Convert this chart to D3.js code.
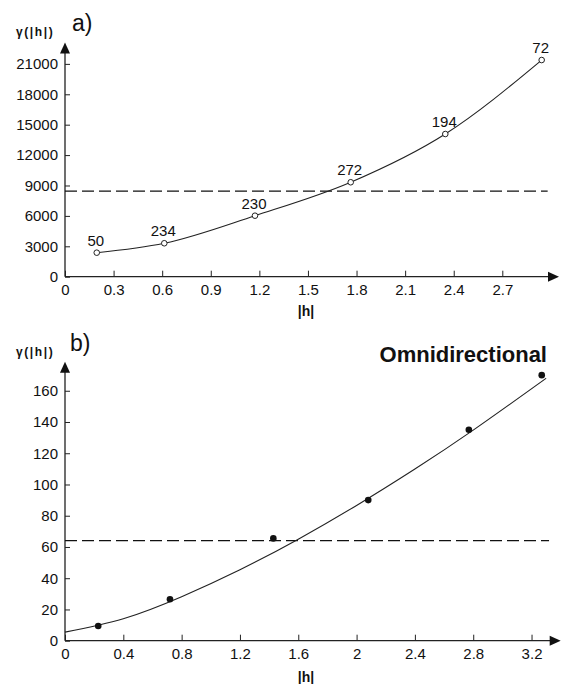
<!DOCTYPE html>
<html>
<head>
<meta charset="utf-8">
<script src="https://cdn.jsdelivr.net/npm/d3@7"></script>
<style>
  body { margin: 0; background: #fff; }
  text { font-family: "Liberation Sans", Arial, sans-serif; fill: #111; }
</style>
</head>
<body>
<div id="my_dataviz"></div>
<script>
// panel a) experimental variogram, lag / gamma / number of pairs
var lagsA = [0.196, 0.613, 1.173, 1.764, 2.348, 2.943];
var gammaA = [2370, 3300, 6020, 9320, 14080, 21380];
var pairsA = [50, 234, 230, 272, 194, 72];
var sillA = 8450;
var sillEndA = 2.98;
var xTicksA = [0, 0.3, 0.6, 0.9, 1.2, 1.5, 1.8, 2.1, 2.4, 2.7];
var yTicksA = [0, 3000, 6000, 9000, 12000, 15000, 18000, 21000];

// panel b) omnidirectional variogram + fitted model
var lagsB = [0.228, 0.72, 1.429, 2.08, 2.77, 3.27];
var gammaB = [9.4, 26.5, 65.5, 90, 135, 170];
var modelLagsB = [0, 0.4, 0.8, 1.2, 1.6, 2.0, 2.4, 2.8, 3.3];
var modelGammaB = [5.5, 14.1, 28.2, 45.4, 65.0, 86.6, 109.9, 134.8, 168];
var sillB = 64;
var sillEndB = 3.32;
var xTicksB = [0, 0.4, 0.8, 1.2, 1.6, 2, 2.4, 2.8, 3.2];
var yTicksB = [0, 20, 40, 60, 80, 100, 120, 140, 160];

var svg = d3.select("#my_dataviz")
  .append("svg")
  .attr("width", 565)
  .attr("height", 684);

// scales
var xA = d3.scaleLinear().domain([0, 3.05]).range([65, 559]);
var yA = d3.scaleLinear().domain([0, 23100]).range([276.7, 42.6]);
var xB = d3.scaleLinear().domain([0, 3.4]).range([65, 560.7]);
var yB = d3.scaleLinear().domain([0, 178.6]).range([640.7, 361.7]);

function drawAxes(x, y, xTicks, yTicks) {
  // X axis
  svg.append("g")
    .attr("transform", "translate(0," + y(0) + ")")
    .call(d3.axisBottom(x).tickValues(xTicks).tickSizeInner(-6).tickSizeOuter(0)
      .tickPadding(8).tickFormat(function (d) { return String(d); }))
    .call(function (g) { g.select(".domain").remove(); })
    .call(function (g) {
      g.selectAll("line").attr("stroke", "#222");
      g.selectAll("text").style("font-size", "15px").attr("fill", "#111");
    });

  // Y axis
  svg.append("g")
    .attr("transform", "translate(" + x(0) + ",0)")
    .call(d3.axisLeft(y).tickValues(yTicks).tickSizeInner(-5).tickSizeOuter(0)
      .tickPadding(7).tickFormat(function (d) { return String(d); }))
    .call(function (g) { g.select(".domain").remove(); })
    .call(function (g) {
      g.selectAll("line").attr("stroke", "#222");
      g.selectAll("text").style("font-size", "15px").attr("fill", "#111");
    });

  var x0 = x(0), y0 = y(0), top = y.range()[1], right = x.range()[1];
  // axis lines with arrow heads
  svg.append("path")
    .attr("d", "M" + x0 + "," + y0 + "V" + (top + 10) + "M" + x0 + "," + y0 + "H" + (right - 10))
    .attr("stroke", "#222").attr("stroke-width", 1.3).attr("fill", "none");
  svg.append("path")
    .attr("d", "M" + (x0 - 5) + "," + (top + 11) + "L" + x0 + "," + top + "L" + (x0 + 5) + "," + (top + 11) + "Z")
    .attr("fill", "#111");
  svg.append("path")
    .attr("d", "M" + (right - 11) + "," + (y0 - 5) + "L" + right + "," + y0 + "L" + (right - 11) + "," + (y0 + 5) + "Z")
    .attr("fill", "#111");
}

// ---- panel a
drawAxes(xA, yA, xTicksA, yTicksA);

svg.append("line")
  .attr("x1", xA(0)).attr("x2", xA(sillEndA))
  .attr("y1", yA(sillA)).attr("y2", yA(sillA))
  .attr("stroke", "#111").attr("stroke-width", 1.2)
  .attr("stroke-dasharray", "12,5");

var ptsA = lagsA.map(function (d, i) { return { h: d, g: gammaA[i], n: pairsA[i] }; });

svg.append("path")
  .datum(ptsA)
  .attr("fill", "none").attr("stroke", "#222").attr("stroke-width", 1.1)
  .attr("d", d3.line()
    .x(function (d) { return xA(d.h); })
    .y(function (d) { return yA(d.g); })
    .curve(d3.curveMonotoneX));

svg.selectAll("circA")
  .data(ptsA)
  .enter()
  .append("circle")
  .attr("cx", function (d) { return xA(d.h); })
  .attr("cy", function (d) { return yA(d.g); })
  .attr("r", 2.8)
  .attr("fill", "#fff").attr("stroke", "#222").attr("stroke-width", 1);

svg.selectAll("labA")
  .data(ptsA)
  .enter()
  .append("text")
  .attr("x", function (d) { return xA(d.h) - 1; })
  .attr("y", function (d) { return yA(d.g) - 7; })
  .attr("text-anchor", "middle")
  .style("font-size", "15px")
  .text(function (d) { return d.n; });

svg.append("text").attr("x", 72).attr("y", 31).style("font-size", "23px").text("a)");
svg.append("text").attr("x", 16).attr("y", 36).style("font-size", "12px")
  .style("font-weight", "bold").style("letter-spacing", "1.6px").text("γ(|h|)");
svg.append("text").attr("x", 306).attr("y", 316).attr("text-anchor", "middle")
  .style("font-size", "14px").style("font-weight", "bold").text("|h|");

// ---- panel b
drawAxes(xB, yB, xTicksB, yTicksB);

svg.append("line")
  .attr("x1", xB(0)).attr("x2", xB(sillEndB))
  .attr("y1", yB(sillB)).attr("y2", yB(sillB))
  .attr("stroke", "#111").attr("stroke-width", 1.2)
  .attr("stroke-dasharray", "12,5");

var modelB = modelLagsB.map(function (d, i) { return { h: d, g: modelGammaB[i] }; });
svg.append("path")
  .datum(modelB)
  .attr("fill", "none").attr("stroke", "#222").attr("stroke-width", 1.1)
  .attr("d", d3.line()
    .x(function (d) { return xB(d.h); })
    .y(function (d) { return yB(d.g); })
    .curve(d3.curveNatural));

svg.selectAll("dotB")
  .data(lagsB)
  .enter()
  .append("circle")
  .attr("cx", function (d) { return xB(d); })
  .attr("cy", function (d, i) { return yB(gammaB[i]); })
  .attr("r", 3.3)
  .attr("fill", "#111");

svg.append("text").attr("x", 70).attr("y", 351).style("font-size", "23px").text("b)");
svg.append("text").attr("x", 16).attr("y", 356).style("font-size", "12px")
  .style("font-weight", "bold").style("letter-spacing", "1.6px").text("γ(|h|)");
svg.append("text").attr("x", 306).attr("y", 682).attr("text-anchor", "middle")
  .style("font-size", "14px").style("font-weight", "bold").text("|h|");
svg.append("text").attr("x", 547).attr("y", 362).attr("text-anchor", "end")
  .style("font-size", "22px").style("font-weight", "bold").text("Omnidirectional");
</script>
</body>
</html>
